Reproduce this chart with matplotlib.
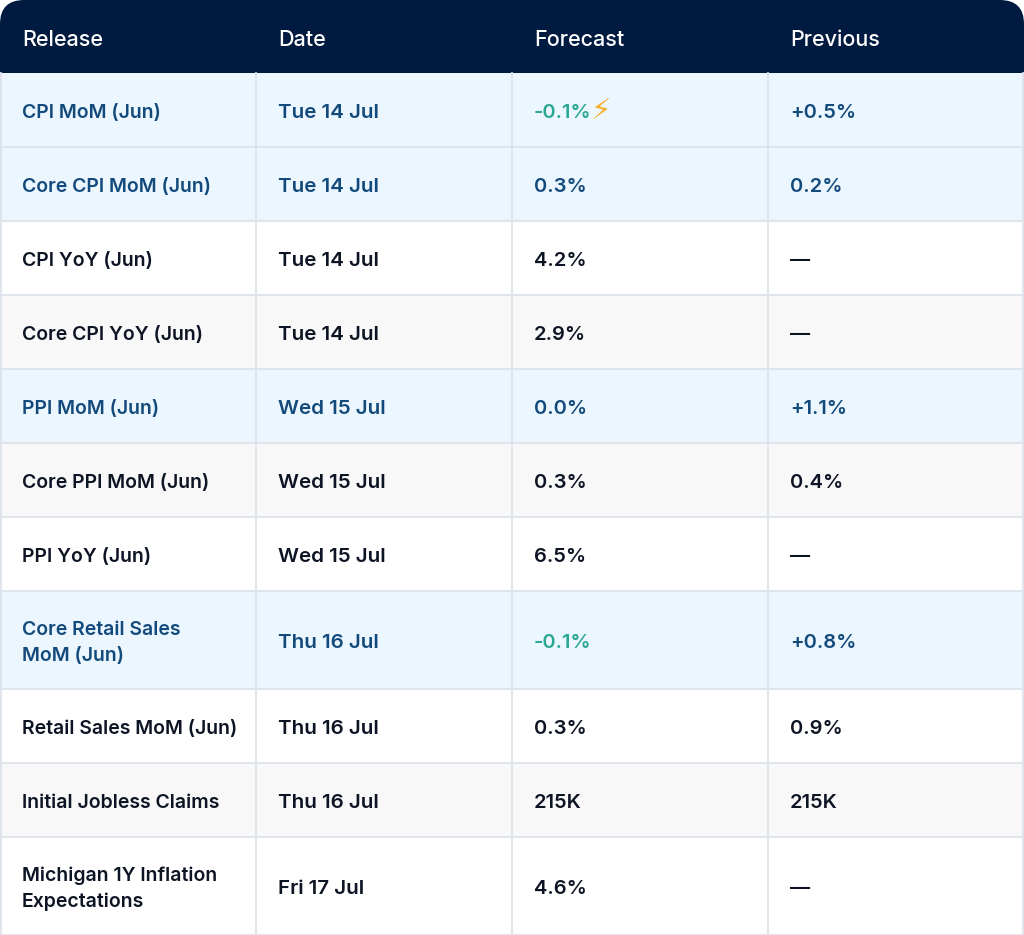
import matplotlib
matplotlib.use('Agg')
import matplotlib.pyplot as plt
from matplotlib.patches import Rectangle, FancyBboxPatch

plt.rcParams['font.family'] = ['Inter', 'DejaVu Sans']

# 表格数据
headers = ['Release', 'Date', 'Forecast', 'Previous']
releases = ['CPI MoM (Jun)', 'Core CPI MoM (Jun)', 'CPI YoY (Jun)', 'Core CPI YoY (Jun)',
            'PPI MoM (Jun)', 'Core PPI MoM (Jun)', 'PPI YoY (Jun)',
            'Core Retail Sales\nMoM (Jun)', 'Retail Sales MoM (Jun)',
            'Initial Jobless Claims', 'Michigan 1Y Inflation\nExpectations']
dates = ['Tue 14 Jul', 'Tue 14 Jul', 'Tue 14 Jul', 'Tue 14 Jul',
         'Wed 15 Jul', 'Wed 15 Jul', 'Wed 15 Jul',
         'Thu 16 Jul', 'Thu 16 Jul', 'Thu 16 Jul', 'Fri 17 Jul']
forecast = ['-0.1%', '0.3%', '4.2%', '2.9%', '0.0%', '0.3%', '6.5%',
            '-0.1%', '0.3%', '215K', '4.6%']
previous = ['+0.5%', '0.2%', '—', '—', '+1.1%', '0.4%', '—',
            '+0.8%', '0.9%', '215K', '—']
highlight = [True, True, False, False, True, False, False, True, False, False, False]
flash = [True, False, False, False, False, False, False, False, False, False, False]

# 颜色
NAVY = '#001a40'
HL_BG = '#ecf6fe'
HL_TXT = '#134a7c'
GREEN = '#2aa894'
TXT = '#0d1424'
GREY_BG = '#f8f8f8'
LINE = '#dde3ea'

W, H = 1024, 935
fig = plt.figure(figsize=(W / 100, H / 100), dpi=100)
ax = fig.add_axes([0, 0, 1, 1])
ax.set_xlim(0, W)
ax.set_ylim(H, 0)
ax.axis('off')

col_x = [0, 256, 512, 768]
pad = 22
head_h = 73
wt = 'semibold'

# 表头（上方圆角）
ax.add_patch(FancyBboxPatch((0, 0), W, 100, boxstyle='round,pad=0,rounding_size=24',
                            facecolor=NAVY, edgecolor='none'))
ax.add_patch(Rectangle((0, 40), W, head_h - 40, facecolor=NAVY, edgecolor='none'))
for x, h in zip(col_x, headers):
    ax.text(x + pad, head_h / 2 + 4, h, color='white', fontsize=15.5, fontweight='medium',
            va='center', ha='left')

# 行
y = head_h
bounds = [y]
for i in range(len(releases)):
    two_line = '\n' in releases[i]
    rh = 98 if two_line else 74
    if highlight[i]:
        bg = HL_BG
    elif i % 2 == 1:
        bg = GREY_BG
    else:
        bg = 'white'
    ax.add_patch(Rectangle((0, y), W, rh, facecolor=bg, edgecolor='none'))
    tc = HL_TXT if highlight[i] else TXT
    yc = y + rh / 2 + 3
    ax.text(col_x[0] + pad, yc, releases[i], color=tc, fontsize=14, fontweight=wt,
            va='center', ha='left', linespacing=1.55)
    ax.text(col_x[1] + pad, yc, dates[i], color=tc, fontsize=14.8, fontweight=wt,
            va='center', ha='left')
    fc = GREEN if forecast[i].startswith('-') else tc
    t = ax.text(col_x[2] + pad, yc, forecast[i], color=fc, fontsize=14.5, fontweight=wt,
                va='center', ha='left')
    if flash[i]:
        fig.canvas.draw()
        bb = t.get_window_extent().transformed(ax.transData.inverted())
        ax.text(bb.x1 - 1, yc - 2, '⚡', color='#f7b030', fontsize=21, family='DejaVu Sans',
                va='center', ha='left')
    ax.text(col_x[3] + pad, yc, previous[i], color=tc, fontsize=14.5, fontweight=wt,
            va='center', ha='left')
    y += rh
    bounds.append(y)

# 网格线
for b in bounds[1:-1]:
    ax.plot([0, W], [b, b], color=LINE, lw=1.3, solid_capstyle='butt')
ax.plot([0, W], [H - 0.5, H - 0.5], color=LINE, lw=1.3)
for x in col_x[1:]:
    ax.plot([x, x], [head_h, H], color=LINE, lw=1.3)
ax.plot([0.7, 0.7], [head_h, H], color=LINE, lw=1.3)
ax.plot([W - 1, W - 1], [head_h, H], color=LINE, lw=1.3)

fig.savefig('out.png', dpi=100)
